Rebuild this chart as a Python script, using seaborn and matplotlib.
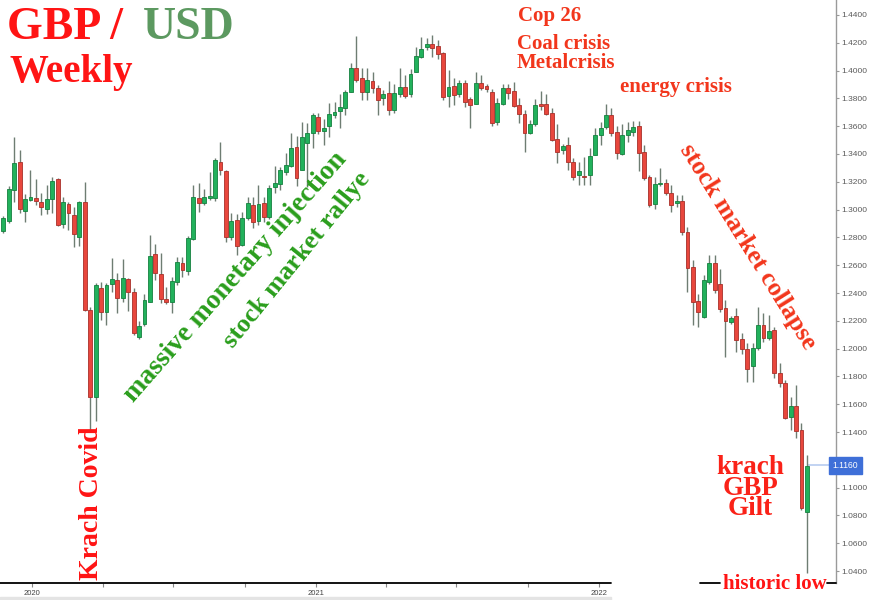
import matplotlib
matplotlib.use("Agg")
import matplotlib.pyplot as plt
from matplotlib.patches import Rectangle
import numpy as np
import pandas as pd
import seaborn as sns

# weekly GBP/USD candles (week starting 2019-11-25)
first_week = "2019-11-25"
opens = [1.2845, 1.2918, 1.3141, 1.3342, 1.2990, 1.3069, 1.3083, 1.3055, 1.3004, 1.3076,
         1.3220, 1.2896, 1.3040, 1.2961, 1.2803, 1.3055, 1.2278, 1.1650, 1.2436, 1.2263,
         1.2465, 1.2494, 1.2364, 1.2501, 1.2407, 1.2083, 1.2177, 1.2335, 1.2681, 1.2537,
         1.2357, 1.2335, 1.2479, 1.2616, 1.2558, 1.2789, 1.3083, 1.3047, 1.3083, 1.3083,
         1.3342, 1.3278, 1.2803, 1.2925, 1.2745, 1.2940, 1.3033, 1.2918, 1.3047, 1.2947,
         1.3163, 1.3184, 1.3270, 1.3314, 1.3450, 1.3285, 1.3479, 1.3551, 1.3666, 1.3565,
         1.3601, 1.3681, 1.3709, 1.3731, 1.3846, 1.4019, 1.3947, 1.3846, 1.3925, 1.3875,
         1.3803, 1.3839, 1.3717, 1.3832, 1.3882, 1.3832, 1.3990, 1.4098, 1.4170, 1.4191,
         1.4177, 1.4127, 1.3817, 1.3889, 1.3832, 1.3911, 1.3796, 1.3760, 1.3911, 1.3889,
         1.3846, 1.3630, 1.3760, 1.3875, 1.3853, 1.3752, 1.3688, 1.3551, 1.3616, 1.3760,
         1.3760, 1.3695, 1.3508, 1.3429, 1.3465, 1.3342, 1.3249, 1.3242, 1.3249, 1.3393,
         1.3537, 1.3594, 1.3680, 1.3558, 1.3400, 1.3537, 1.3558, 1.3601, 1.3414, 1.3234,
         1.3040, 1.3184, 1.3191, 1.3119, 1.3047, 1.3062, 1.2839, 1.2587, 1.2342, 1.2227,
         1.2479, 1.2616, 1.2465, 1.2292, 1.2191, 1.2234, 1.2070, 1.1998, 1.1875, 1.2004,
         1.2170, 1.2076, 1.2134, 1.1824, 1.1753, 1.1508, 1.1587, 1.1414, 1.0824]
highs = [1.2954, 1.3170, 1.3522, 1.3429, 1.3112, 1.3285, 1.3220, 1.3119, 1.3177, 1.3234,
         1.3225, 1.3090, 1.3055, 1.3019, 1.3062, 1.3199, 1.2300, 1.2472, 1.2479, 1.2472,
         1.2652, 1.2544, 1.2645, 1.2508, 1.2436, 1.2200, 1.2393, 1.2817, 1.2753, 1.2688,
         1.2443, 1.2515, 1.2659, 1.2659, 1.2810, 1.3177, 1.3191, 1.3148, 1.3270, 1.3371,
         1.3486, 1.3285, 1.2976, 1.2968, 1.2983, 1.3091, 1.3091, 1.3177, 1.3091, 1.3177,
         1.3314, 1.3306, 1.3407, 1.3551, 1.3530, 1.3630, 1.3623, 1.3695, 1.3695, 1.3652,
         1.3767, 1.3774, 1.3831, 1.3860, 1.4055, 1.4249, 1.4019, 1.4019, 1.3990, 1.3896,
         1.3860, 1.3925, 1.3904, 1.4019, 1.3968, 1.4011, 1.4170, 1.4242, 1.4235, 1.4256,
         1.4220, 1.4134, 1.4004, 1.3947, 1.3932, 1.3932, 1.3810, 1.3990, 1.3968, 1.3900,
         1.3868, 1.3800, 1.3900, 1.3904, 1.3918, 1.3800, 1.3717, 1.3645, 1.3796, 1.3853,
         1.3832, 1.3731, 1.3616, 1.3470, 1.3522, 1.3371, 1.3342, 1.3380, 1.3443, 1.3587,
         1.3630, 1.3760, 1.3731, 1.3600, 1.3616, 1.3630, 1.3637, 1.3637, 1.3465, 1.3249,
         1.3234, 1.3299, 1.3220, 1.3177, 1.3105, 1.3105, 1.2875, 1.2637, 1.2393, 1.2530,
         1.2673, 1.2673, 1.2573, 1.2353, 1.2234, 1.2292, 1.2112, 1.2040, 1.2040, 1.2299,
         1.2256, 1.2242, 1.2155, 1.1896, 1.1774, 1.1652, 1.1738, 1.1465, 1.1235]
lows = [1.2832, 1.2904, 1.3055, 1.2976, 1.2911, 1.3062, 1.3033, 1.2961, 1.2968, 1.2976,
        1.2882, 1.2868, 1.2853, 1.2731, 1.2738, 1.2271, 1.1410, 1.1480, 1.2206, 1.2170,
        1.2407, 1.2256, 1.2335, 1.2270, 1.2098, 1.2070, 1.2163, 1.2335, 1.2494, 1.2328,
        1.2321, 1.2256, 1.2458, 1.2515, 1.2530, 1.2782, 1.2983, 1.3033, 1.3069, 1.3062,
        1.3249, 1.2767, 1.2782, 1.2673, 1.2738, 1.2925, 1.2868, 1.2889, 1.2911, 1.2932,
        1.3119, 1.3141, 1.3249, 1.3306, 1.3170, 1.3285, 1.3163, 1.3443, 1.3544, 1.3465,
        1.3522, 1.3659, 1.3587, 1.3680, 1.3846, 1.3918, 1.3788, 1.3788, 1.3839, 1.3680,
        1.3752, 1.3680, 1.3695, 1.3810, 1.3803, 1.3810, 1.3990, 1.4091, 1.4148, 1.4098,
        1.4083, 1.3788, 1.3738, 1.3752, 1.3810, 1.3738, 1.3587, 1.3760, 1.3860, 1.3845,
        1.3601, 1.3610, 1.3752, 1.3796, 1.3738, 1.3623, 1.3414, 1.3544, 1.3601, 1.3720,
        1.3680, 1.3490, 1.3335, 1.3400, 1.3285, 1.3213, 1.3177, 1.3177, 1.3177, 1.3393,
        1.3465, 1.3580, 1.3530, 1.3364, 1.3393, 1.3486, 1.3530, 1.3278, 1.3213, 1.3019,
        1.3004, 1.3170, 1.3105, 1.2983, 1.3019, 1.2817, 1.2407, 1.2170, 1.2155, 1.2220,
        1.2465, 1.2400, 1.2263, 1.1940, 1.2180, 1.1975, 1.1960, 1.1760, 1.1760, 1.1990,
        1.2047, 1.2062, 1.1788, 1.1724, 1.1490, 1.1414, 1.1357, 1.0839, 1.0385]
closes = [1.2940, 1.3148, 1.3335, 1.3004, 1.3076, 1.3091, 1.3062, 1.3019, 1.3076, 1.3206,
          1.2889, 1.3055, 1.2976, 1.2825, 1.3055, 1.2278, 1.1650, 1.2458, 1.2263, 1.2458,
          1.2501, 1.2364, 1.2508, 1.2407, 1.2112, 1.2163, 1.2350, 1.2666, 1.2544, 1.2357,
          1.2335, 1.2486, 1.2623, 1.2565, 1.2796, 1.3091, 1.3047, 1.3091, 1.3098, 1.3357,
          1.3285, 1.2803, 1.2918, 1.2738, 1.2940, 1.3047, 1.2911, 1.3040, 1.2947, 1.3155,
          1.3191, 1.3285, 1.3321, 1.3443, 1.3227, 1.3522, 1.3551, 1.3680, 1.3565, 1.3587,
          1.3688, 1.3702, 1.3738, 1.3846, 1.4019, 1.3932, 1.3846, 1.3932, 1.3875, 1.3788,
          1.3832, 1.3717, 1.3839, 1.3882, 1.3817, 1.3976, 1.4105, 1.4155, 1.4191, 1.4163,
          1.4119, 1.3810, 1.3882, 1.3824, 1.3911, 1.3774, 1.3752, 1.3911, 1.3875, 1.3868,
          1.3623, 1.3767, 1.3875, 1.3839, 1.3745, 1.3688, 1.3551, 1.3616, 1.3752, 1.3745,
          1.3688, 1.3501, 1.3414, 1.3457, 1.3342, 1.3234, 1.3278, 1.3234, 1.3386, 1.3537,
          1.3587, 1.3680, 1.3551, 1.3407, 1.3537, 1.3573, 1.3594, 1.3407, 1.3227, 1.3033,
          1.3184, 1.3191, 1.3119, 1.3033, 1.3062, 1.2839, 1.2580, 1.2335, 1.2263, 1.2494,
          1.2616, 1.2422, 1.2285, 1.2199, 1.2220, 1.2063, 1.1998, 1.1853, 1.2004, 1.2170,
          1.2076, 1.2127, 1.1824, 1.1753, 1.1501, 1.1587, 1.1407, 1.0853, 1.1155]
last_price = 1.1160
year_labels = ["2020", "", "", "", "2021", "", "", "", "2022"]

W, H = 869, 600


def fx(px):
    return px / W


def fy(py):
    return 1 - py / H


df = pd.DataFrame({"open": opens, "high": highs, "low": lows, "close": closes})
df["date"] = pd.date_range(first_week, periods=len(df), freq="7D")
df["up"] = df["close"] >= df["open"]
df["bottom"] = df[["open", "close"]].min(axis=1)
df["height"] = (df["close"] - df["open"]).abs().clip(lower=0.0007)

sns.set_style("white")
fig = plt.figure(figsize=(W / 100, H / 100), dpi=100)
ax = fig.add_axes([0, 17 / H, 836 / W, 583 / H])

up_col, dn_col = "#22b15c", "#e8473d"
up_edge, dn_edge = "#14803e", "#a8302a"
ax.vlines(df["date"], df["low"], df["high"], color="#6e7d72", lw=1.0, zorder=1)
ax.bar(df["date"], df["height"], bottom=df["bottom"], width=5.0,
       color=np.where(df["up"], up_col, dn_col),
       edgecolor=np.where(df["up"], up_edge, dn_edge), linewidth=0.6, zorder=2)

# last price line and tag
x_end = pd.Timestamp(first_week) + pd.Timedelta(days=1073.5)
ax.hlines(last_price, df["date"].iloc[-1], x_end, color="#b8ccf0", lw=1.2, zorder=0)
ax.text(1 - 3.5 / 836, last_price, f"{last_price:.4f}", transform=ax.get_yaxis_transform(),
        ha="left", va="center", color="white", fontsize=6.2, family="Liberation Sans",
        bbox=dict(boxstyle="square,pad=0.45", fc="#3e6fd8", ec="#3e6fd8"), zorder=5,
        clip_on=False)

ax.set_xlim(pd.Timestamp(first_week) - pd.Timedelta(days=4.25), x_end)
ax.set_ylim(1.03137, 1.45079)

ax.yaxis.tick_right()
yticks = np.arange(1.04, 1.441, 0.02)
ax.set_yticks(yticks)
# the 1.1200 label sits under the price tag
ax.set_yticklabels(["" if abs(v - 1.12) < 1e-6 else f"{v:.4f}" for v in yticks])
ax.tick_params(axis="y", right=True, length=2.5, width=0.8, color="#999999",
               labelsize=6.0, labelcolor="#5a5a5a", pad=1.5)
for lab in ax.get_yticklabels():
    lab.set_family("Liberation Sans")

ax.set_xticks(pd.date_range("2020-01-01", "2022-01-01", freq="QS"))
ax.set_xticklabels(year_labels)
ax.tick_params(axis="x", bottom=True, length=3, width=0.8, color="#888888",
               labelsize=5.5, labelcolor="#404040", pad=2)
for lab in ax.get_xticklabels():
    lab.set_family("Liberation Sans")

for s in ["top", "left", "bottom"]:
    ax.spines[s].set_visible(False)
ax.spines["right"].set_color("#9a9a9a")
ax.spines["right"].set_linewidth(1.0)

# bottom rule with the gap around the annotation
for x0, x1 in [(0, 611), (700, 720), (827, 836)]:
    ax.plot([x0 / 836, x1 / 836], [0, 0], transform=ax.transAxes, color="black",
            lw=1.3, clip_on=False, zorder=6)
fig.patches.append(Rectangle((0, 0), 611 / W, 3 / H, transform=fig.transFigure,
                             color="#e4e4e4", zorder=0))

serif = "Liberation Serif"
red = "#ff1414"
ored = "#f2361c"
green = "#2a9e1c"

fig.text(fx(7), fy(39), "GBP /", color=red, fontsize=33, fontweight="bold",
         family=serif, va="baseline")
fig.text(fx(143), fy(39), "USD", color="#5c9960", fontsize=33, fontweight="bold",
         family=serif, va="baseline")
fig.text(fx(10), fy(82), "Weekly", color=red, fontsize=28, fontweight="bold",
         family=serif, va="baseline")

fig.text(fx(518), fy(21), "Cop 26", color=ored, fontsize=15, fontweight="bold",
         family=serif, va="baseline")
fig.text(fx(517), fy(49), "Coal crisis", color=ored, fontsize=15, fontweight="bold",
         family=serif, va="baseline")
fig.text(fx(517), fy(68), "Metalcrisis", color=ored, fontsize=15, fontweight="bold",
         family=serif, va="baseline")
fig.text(fx(620), fy(92), "energy crisis", color=ored, fontsize=15, fontweight="bold",
         family=serif, va="baseline")

fig.text(fx(236), fy(277), "massive monetary injection", color=green, fontsize=20,
         fontweight="bold", family=serif, rotation=48.7, rotation_mode="anchor",
         ha="center", va="center")
fig.text(fx(297), fy(260), "stock market rallye", color=green, fontsize=19,
         fontweight="bold", family=serif, rotation=51, rotation_mode="anchor",
         ha="center", va="center")
fig.text(fx(748), fy(247), "stock market collapse", color=ored, fontsize=18.5,
         fontweight="bold", family=serif, rotation=-58, rotation_mode="anchor",
         ha="center", va="center")
fig.text(fx(92), fy(503), "Krach Covid", color=red, fontsize=20, fontweight="bold",
         family=serif, rotation=90, rotation_mode="anchor", ha="center", va="center")

# baseline of a multi-line text is the last line ("Gilt")
fig.text(fx(750), fy(515), "krach\nGBP\nGilt", color="#fa2218", fontsize=19.5,
         fontweight="bold", family=serif, ha="center", va="baseline",
         multialignment="center", linespacing=0.76)
fig.text(fx(723), fy(589), "historic low", color=red, fontsize=15, fontweight="bold",
         family=serif, va="baseline")

fig.savefig("out.png", dpi=100)
